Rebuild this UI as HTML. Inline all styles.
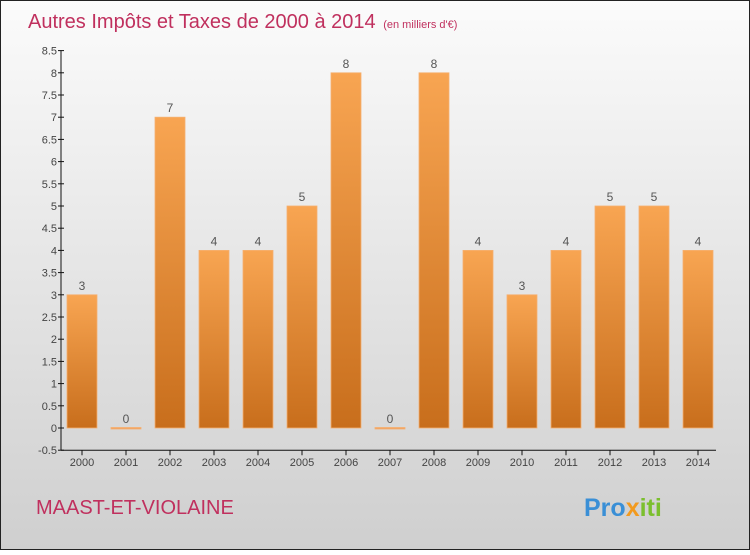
<!DOCTYPE html>
<html><head><meta charset="utf-8"><style>
html,body{margin:0;padding:0}
body{width:750px;height:550px;overflow:hidden;font-family:"Liberation Sans",sans-serif}
</style></head><body>
<svg width="750" height="550" xmlns="http://www.w3.org/2000/svg">
<defs>
<linearGradient id="bg" x1="0" y1="0" x2="0" y2="1"><stop offset="0" stop-color="#fbfbfb"/><stop offset="1" stop-color="#cfcfcf"/></linearGradient>
<linearGradient id="bar" x1="0" y1="0" x2="0" y2="1"><stop offset="0" stop-color="#f8a552"/><stop offset="1" stop-color="#c86e1c"/></linearGradient>
</defs>
<rect x="0.5" y="0.5" width="749" height="549" fill="url(#bg)" stroke="#222"/>
<text x="28" y="28" font-size="20" fill="#c0305e">Autres Impôts et Taxes de 2000 à 2014 <tspan font-size="11" dx="2">(en milliers d'€)</tspan></text>
<g id="axes"></g>
<g id="bars"></g>
<text x="36" y="514" font-size="20" fill="#c0305e">MAAST-ET-VIOLAINE</text>
<text x="584" y="516" font-size="25" font-weight="bold"><tspan fill="#3a8fd6">Pro</tspan><tspan fill="#f29a1e">x</tspan><tspan fill="#7bbf2e">iti</tspan></text>
</svg>
<script>
const years=["2000","2001","2002","2003","2004","2005","2006","2007","2008","2009","2010","2011","2012","2013","2014"];
const values=[3,0,7,4,4,5,8,0,8,4,3,4,5,5,4];
const yTicks=[-0.5,0,0.5,1,1.5,2,2.5,3,3.5,4,4.5,5,5.5,6,6.5,7,7.5,8,8.5];
const NS="http://www.w3.org/2000/svg";
const y0=428,unit=44.4,x0=82,step=44,bw=30;
const Y=v=>y0-v*unit, X=i=>x0+i*step;
function mk(t,a,p){const e=document.createElementNS(NS,t);for(const k in a)e.setAttribute(k,a[k]);p.appendChild(e);return e;}
const ax=document.getElementById('axes'),bg=document.getElementById('bars');
const yl=mk('line',{x1:61,y1:Y(8.5),x2:61,y2:Y(-0.5),stroke:'#111'},ax);


const xl=mk('line',{x1:61,y1:Y(-0.5),x2:716,y2:Y(-0.5),stroke:'#111'},ax);


yTicks.forEach(v=>{
  mk('line',{x1:58,y1:Y(v),x2:64,y2:Y(v),stroke:'#111'},ax);
  const t=mk('text',{x:57,y:Y(v)+4,'font-size':11,fill:'#444','text-anchor':'end'},ax);
  t.textContent=String(v);
  
  
});
years.forEach((yr,i)=>{
  mk('line',{x1:X(i),y1:Y(-0.5),x2:X(i),y2:Y(-0.5)+5,stroke:'#111'},ax);
  const t=mk('text',{x:X(i),y:466,'font-size':11,fill:'#444','text-anchor':'middle'},ax);
  t.textContent=yr;
  
  
  const v=values[i];
  const h=Math.max(Y(0)-Y(v),1.5);
  const r=mk('rect',{x:X(i)-bw/2,y:Y(0)-h+(v===0?1:0),width:bw,height:h,fill:v===0?'#f0a060':'url(#bar)',stroke:'#f5b070','stroke-width':0.8},bg);
  
  
  const l=mk('text',{x:X(i),y:Y(v)-5,'font-size':12,fill:'#555','text-anchor':'middle'},bg);
  l.textContent=String(v);
  
  
});
</script>
</body></html>
